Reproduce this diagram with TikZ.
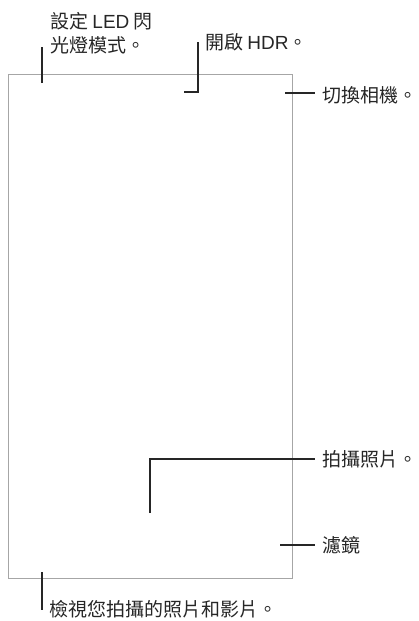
\documentclass[tikz,border=0pt]{standalone}
\usepackage{fontspec}
\setmainfont{Noto Sans CJK TC}
\newfontfamily\latinfont{Liberation Sans}
\usetikzlibrary{positioning,calc}

\begin{document}
\begin{tikzpicture}[
  x=1pt, y=-1pt,
  frame/.style={draw=black!35, line width=0.9pt},
  callout/.style={draw=black!85, line width=1.3pt},
  label/.style={inner sep=0pt, anchor=west, font=\fontsize{19}{24}\selectfont, text=black!85, align=left}
]
\useasboundingbox (0,0) rectangle (418,621);
% screen outline
\draw[frame] (8,74) rectangle (292,578);

% labels
\node[label, anchor=north west] (flash) at (50,12) {設定 {\latinfont LED} 閃\\光燈模式。};
\node[label] (hdr) at (205,42) {開啟 {\latinfont HDR}。};
\node[label] (switch) at (322,95) {切換相機。};
\node[label] (shutter) at (322,459) {拍攝照片。};
\node[label] (filter) at (322,545) {濾鏡};
\node[label] (review) at (49,609) {檢視您拍攝的照片和影片。};

% callout ends
\coordinate (flashtip) at (42,83);
\coordinate (hdrtip) at (184,92);
\coordinate (switchtip) at (285,93);
\coordinate (shuttertip) at (150,513);
\coordinate (filtertip) at (280,545);
\coordinate (reviewtip) at (42,572);

% callouts
\draw[callout] (flashtip) -- ++(0,-36);
\draw[callout] ([xshift=-7pt]hdr.west) -- (hdrtip -| 198,0) -- (hdrtip);
\draw[callout] (switchtip) -- (switchtip -| 315,0);
\draw[callout] (shuttertip) -- (shuttertip |- shutter.west) -- ([xshift=-7pt]shutter.west);
\draw[callout] (filtertip) -- ([xshift=-7pt]filter.west);
\draw[callout] (reviewtip) -- ++(0,38);
\end{tikzpicture}
\end{document}
